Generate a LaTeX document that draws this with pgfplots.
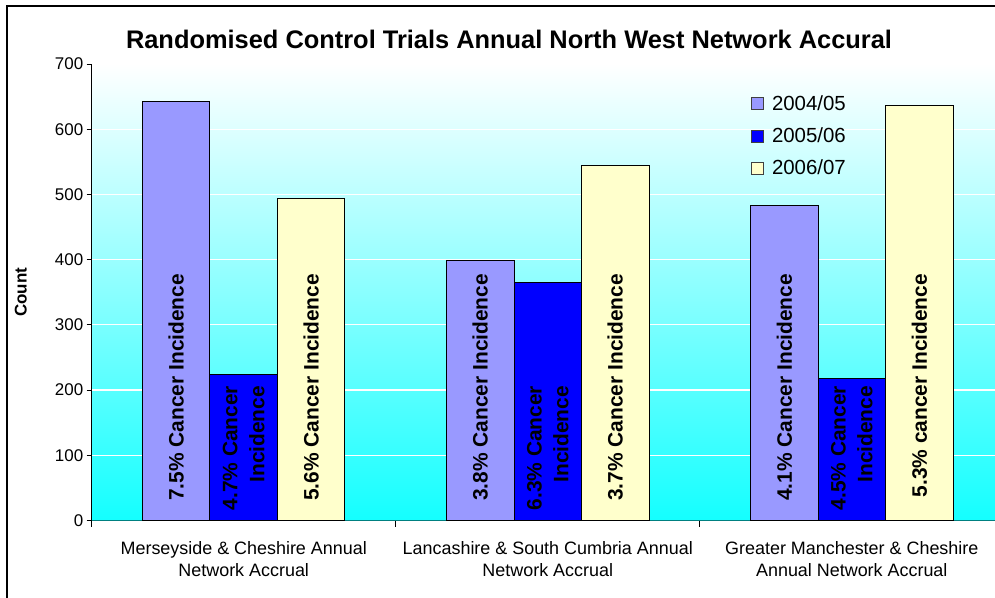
\documentclass[border=0pt]{standalone}
\usepackage{pgfplots}
\pgfplotsset{compat=1.18}
\usepackage{fontspec}
\setmainfont{Liberation Sans}
\definecolor{cA}{RGB}{153,153,255}
\definecolor{cB}{RGB}{0,0,255}
\definecolor{cC}{RGB}{255,255,204}
\definecolor{bgbot}{RGB}{20,255,255}
\definecolor{xaxis}{RGB}{0,128,128}
\pgfplotsset{
  lbl/.style={nodes near coords style={shift={(axis direction cs:0,-\rawy)}, yshift=#1, rotate=90, anchor=east, inner sep=0pt, font=\bfseries\fontsize{21}{27}\selectfont, align=right, text=black}}
}
\begin{document}
\begin{tikzpicture}
\useasboundingbox (0,0) rectangle (995bp,598bp);
\begin{axis}[
  at={(91.7bp,77.5bp)}, anchor=south west,
  scale only axis, width=903.3bp, height=456.5bp,
  xmin=-0.5, xmax=2.471, ymin=0, ymax=700,
  ybar, bar width=67.5bp,
  axis x line*=bottom, axis y line*=left,
  axis line style={-},
  x axis line style={draw=xaxis, line width=1.2bp},
  y axis line style={draw=black, line width=0.8bp},
  xtick={0,1,2},
  xticklabels={{Merseyside \& Cheshire Annual\\Network Accrual},{Lancashire \& South Cumbria Annual\\Network Accrual},{Greater Manchester \& Cheshire\\Annual Network Accrual}},
  every major x tick/.style={draw=none},
  minor xtick={-0.5,0.5,1.5},
  every minor x tick/.style={draw=black, line width=0.8bp},
  minor tick length=6bp,
  xticklabel style={align=center, font=\fontsize{18}{23}\selectfont, yshift=-12bp},
  ytick={0,100,...,700},
  ymajorgrids, major grid style={draw=white, line width=1.2bp},
  every major y tick/.style={draw=black, line width=0.8bp},
  major tick length=5bp,
  tick align=outside,
  yticklabel style={font=\fontsize{17}{20}\selectfont},
  /pgf/number format/assume math mode=true,
  ylabel={Count},
  ylabel style={font=\bfseries\fontsize{17}{20}\selectfont, at={(axis description cs:-0.0785,0.5)}, anchor=center},
  title={Randomised Control Trials Annual North West Network Accural},
  title style={font=\bfseries\fontsize{25.5}{28}\selectfont, at={(axis description cs:0.462,1.04)}, anchor=center},
  axis background/.style={shade, top color=white, bottom color=bgbot},
  legend style={draw=none, fill=none, at={(0.7266,0.94)}, anchor=north west, font=\fontsize{20.5}{24}\selectfont, row sep=12bp},
  legend cell align=left,
  legend image code/.code={\draw[#1, draw=black!75, line width=0.8bp] (0bp,-6bp) rectangle (12bp,6bp);},
  /tikz/every odd column/.append style={column sep=6bp},
  nodes near coords, point meta=explicit symbolic,
  visualization depends on={rawy \as \rawy},
]
\addplot[fill=cA, draw=black, line width=1bp, bar shift=-67.5bp, lbl=247bp] coordinates {
  (0,643) [7.5\% Cancer Incidence]
  (1,399) [3.8\% Cancer Incidence]
  (2,483) [4.1\% Cancer Incidence]
};
\addlegendentry{2004/05}
\addplot[fill=cB, draw=black, line width=1bp, bar shift=0bp, lbl=135bp] coordinates {
  (0,224) [4.7\% Cancer\\Incidence]
  (1,365) [6.3\% Cancer\\Incidence]
  (2,218) [4.5\% Cancer\\Incidence]
};
\addlegendentry{2005/06}
\addplot[fill=cC, draw=black, line width=1bp, bar shift=67.5bp, lbl=247bp] coordinates {
  (0,494) [5.6\% Cancer Incidence]
  (1,544) [3.7\% Cancer Incidence]
  (2,637) [5.3\% cancer Incidence]
};
\addlegendentry{2006/07}
\end{axis}
\draw[line width=2bp] (6.5bp,0bp) -- (6.5bp,592.3bp) -- (995bp,592.3bp);
\end{tikzpicture}
\end{document}
